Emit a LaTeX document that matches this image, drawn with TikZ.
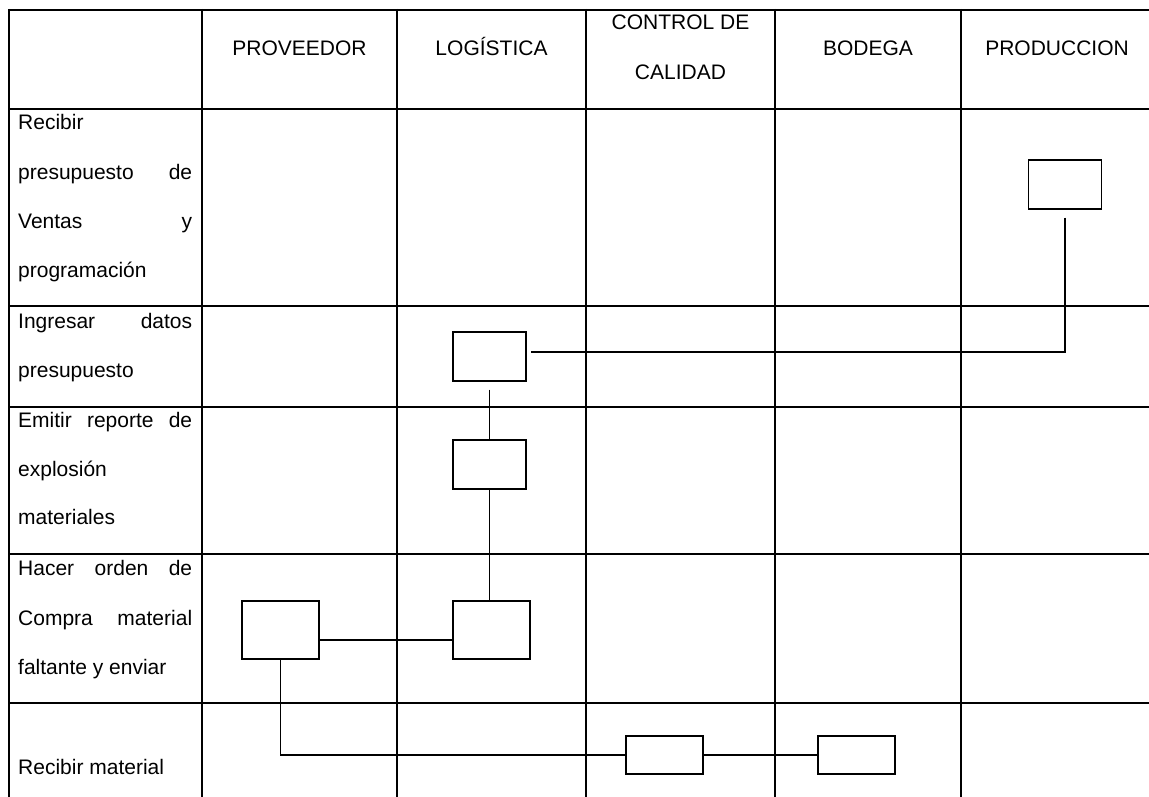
\documentclass[tikz,border=0pt]{standalone}
\usepackage{fontspec}
\setmainfont{Liberation Sans}
\begin{document}
\begin{tikzpicture}[x=1pt,y=-1pt,
  grid/.style={line width=2pt},
  stepbox/.style={draw, line width=1.3pt, inner sep=0pt, minimum width=#1},
  stepbox/.default=73pt,
  link/.style={line width=1.3pt},
  hdr/.style={anchor=base, inner sep=0pt, font=\fontsize{21}{25}\selectfont},
  lbl/.style={anchor=base west, inner sep=0pt, font=\fontsize{21}{25}\selectfont}]
\useasboundingbox (0,0) rectangle (1149,797);

% table rules
\foreach \yy in {10,109,306,407,554,703}
  \draw[grid] (9,\yy) -- (1152,\yy);
\foreach \xx in {9,202,397,586,775,961}
  \draw[grid] (\xx,9) -- (\xx,800);

% column headings
\node[hdr] (hprov) at (299.5,56) {PROVEEDOR};
\node[hdr] (hlog)  at (491.5,56) {LOGÍSTICA};
\node[hdr] (hcc1)  at (680.5,30) {CONTROL DE};
\node[hdr] (hcc2)  at (680.5,80) {CALIDAD};
\node[hdr] (hbod)  at (868,56)   {BODEGA};
\node[hdr] (hprod) at (1057,56)  {PRODUCCION};

% activity labels
\node[lbl] (a1) at (18,130) {Recibir};
\node[lbl] (a2) at (18,179) {\makebox[174pt][s]{presupuesto de}};
\node[lbl] (a3) at (18,228) {\makebox[174pt][s]{Ventas y}};
\node[lbl] (a4) at (18,277) {programación};
\node[lbl] (b1) at (18,328) {\makebox[174pt][s]{Ingresar datos}};
\node[lbl] (b2) at (18,377) {presupuesto};
\node[lbl] (c1) at (18,427) {\makebox[174pt][s]{Emitir reporte de}};
\node[lbl] (c2) at (18,476) {explosión};
\node[lbl] (c3) at (18,524) {materiales};
\node[lbl] (d1) at (18,575) {\makebox[174pt][s]{Hacer orden de}};
\node[lbl] (d2) at (18,625) {\makebox[174pt][s]{Compra material}};
\node[lbl] (d3) at (18,674) {faltante y enviar};
\node[lbl] (e1) at (18,774) {Recibir material};

% process boxes
\node[stepbox, minimum height=49pt] (prod) at (1065,184.5) {};
\node[stepbox, minimum height=49pt] (log1) at (489.5,356.5) {};
\node[stepbox, minimum height=49pt] (log2) at (489.5,464.5) {};
\node[stepbox=77pt, minimum height=58pt] (log3) at (491.5,630) {};
\node[stepbox=77pt, minimum height=58pt] (prov) at (280.5,630) {};
\node[stepbox=77pt, minimum height=38pt] (cc)   at (664.5,755) {};
\node[stepbox=77pt, minimum height=38pt] (bod)  at (856.5,755) {};

% connectors
\draw[link, shorten <=8pt, shorten >=4pt] (prod.south) |- ([yshift=4.5pt]log1.east);
\draw[link, shorten <=8pt] (log1.south) -- (log2.north);
\draw[link] (log2.south) -- (log2.south |- log3.north);
\draw[link] ([yshift=-10pt]prov.east) -- ([yshift=-10pt]log3.west);
\draw[link] (prov.south) |- (cc.west);
\draw[link] (cc.east) -- (bod.west);
\end{tikzpicture}
\end{document}
